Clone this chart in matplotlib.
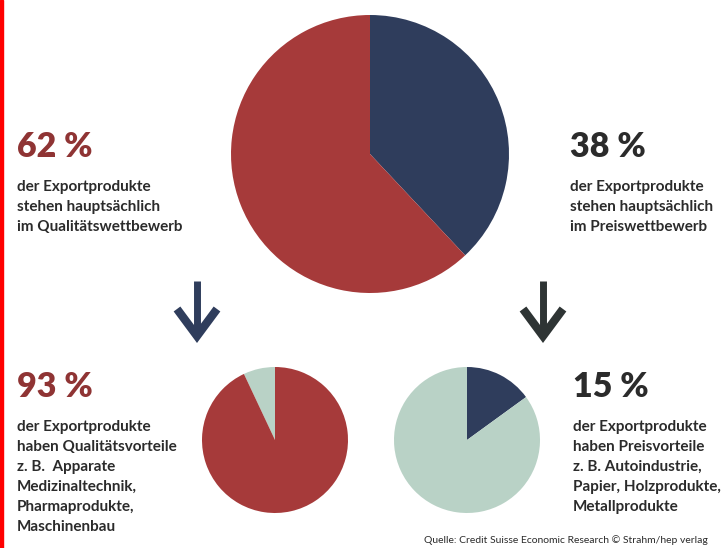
import matplotlib.pyplot as plt
from matplotlib.patches import Rectangle

# shares (percent)
main_labels = ["Qualitätswettbewerb", "Preiswettbewerb"]
main_shares = [62, 38]
quality_shares = [93, 7]   # Qualitätsvorteile / Rest
price_shares = [15, 85]    # Preisvorteile / Rest

left_top_text = ["der Exportprodukte", "stehen hauptsächlich", "im Qualitätswettbewerb"]
right_top_text = ["der Exportprodukte", "stehen hauptsächlich", "im Preiswettbewerb"]
left_bottom_text = ["der Exportprodukte", "haben Qualitätsvorteile", "z. B.  Apparate",
                    "Medizinaltechnik,", "Pharmaprodukte,", "Maschinenbau"]
right_bottom_text = ["der Exportprodukte", "haben Preisvorteile", "z. B. Autoindustrie,",
                     "Papier, Holzprodukte,", "Metallprodukte"]
source = "Quelle: Credit Suisse Economic Research © Strahm/hep verlag"

RED = "#a63a3a"
NAVY = "#2f3d5c"
LIGHT = "#b9d2c6"
TXT_RED = "#8f3434"
TXT = "#2b2b2b"
FONT = ["Lato", "DejaVu Sans"]

W, H = 722, 548
fig = plt.figure(figsize=(W / 100, H / 100), dpi=100)
ax = fig.add_axes([0, 0, 1, 1])


def Y(y):
    # pixel row (top-down) -> data y (bottom-up)
    return H - y


# big pie
ax.pie([main_shares[1], main_shares[0]], colors=[NAVY, RED], startangle=90,
       counterclock=False, center=(370, Y(154)), radius=139,
       wedgeprops=dict(linewidth=0))
# small pies
ax.pie([quality_shares[1], quality_shares[0]], colors=[LIGHT, RED], startangle=90,
       counterclock=True, center=(275, Y(440)), radius=73,
       wedgeprops=dict(linewidth=0))
ax.pie(price_shares, colors=[NAVY, LIGHT], startangle=90,
       counterclock=False, center=(467, Y(440)), radius=73,
       wedgeprops=dict(linewidth=0))

# arrows
for x, c in [(197, NAVY), (543, "#2e3434")]:
    ax.plot([x, x], [Y(281), Y(336)], color=c, lw=5, solid_capstyle="butt")
    ax.plot([x - 20, x, x + 20], [Y(309), Y(336), Y(309)], color=c, lw=6,
            solid_joinstyle="miter", solid_capstyle="butt")


def block(x, y_big, big, big_color, lines, y0):
    ax.text(x, Y(y_big), big, fontsize=24.5, fontweight="heavy", color=big_color,
            family=FONT, va="top", ha="left")
    for i, s in enumerate(lines):
        ax.text(x, Y(y0 + 20 * i), s, fontsize=11, fontweight="bold", color=TXT,
                family=FONT, va="center", ha="left")


block(17, 131, f"{main_shares[0]} %", TXT_RED, left_top_text, 187)
block(570, 131, f"{main_shares[1]} %", TXT, right_top_text, 187)
block(17, 371, f"{quality_shares[0]} %", TXT_RED, left_bottom_text, 427)
block(573, 371, f"{price_shares[0]} %", TXT, right_bottom_text, 427)

ax.text(424, Y(540), source, fontsize=7.5, color=TXT, family=FONT, va="center", ha="left")

ax.set_xlim(0, W)
ax.set_ylim(0, H)
ax.set_aspect("auto")
ax.axis("off")

# red left border
fig.patches.append(Rectangle((0, 0), 3 / W, 1, transform=fig.transFigure,
                             color="#ff0000", zorder=10))

fig.savefig("out.png", dpi=100)
